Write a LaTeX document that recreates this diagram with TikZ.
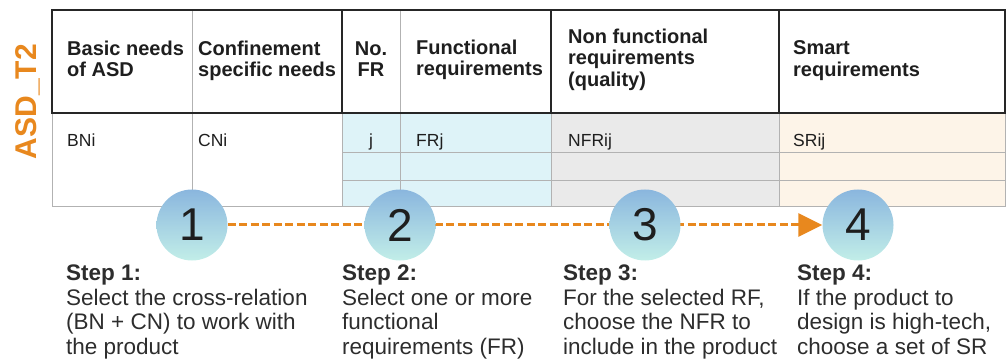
\documentclass[tikz,border=0pt]{standalone}
\usepackage{fontspec}
\setmainfont{Liberation Sans}
\usetikzlibrary{arrows.meta,backgrounds}
\definecolor{org}{RGB}{232,136,30}
\definecolor{cyanf}{RGB}{222,243,248}
\definecolor{grayf}{RGB}{234,234,234}
\definecolor{peachf}{RGB}{253,244,232}
\definecolor{gridc}{RGB}{178,178,178}
\definecolor{txt}{RGB}{30,30,30}
\definecolor{steptxt}{RGB}{45,45,45}
\definecolor{ctop}{RGB}{138,182,222}
\definecolor{cbot}{RGB}{194,238,232}
\begin{document}
\begin{tikzpicture}[x=1pt,y=-1pt,
 hdr/.style={anchor=base west, align=left, inner sep=0, font=\fontsize{20}{21.5}\selectfont\bfseries, text=txt},
 cell/.style={anchor=base west, inner sep=0, font=\fontsize{17.5}{20}\selectfont, text=txt},
 stepbox/.style={circle, minimum size=71pt, inner sep=0, top color=ctop, bottom color=cbot, font=\fontsize{46}{46}\selectfont, text=txt},
 steptext/.style={anchor=base west, align=left, inner sep=0, font=\fontsize{22.5}{24.5}\selectfont, text=steptxt},
 thinline/.style={draw=gridc, line width=1pt},
 thickline/.style={draw=black!85, line width=2.5pt},
 flow/.style={draw=org, line width=3pt, dash pattern=on 8pt off 3.5pt, -{Triangle[length=24pt,width=23pt]}}
]
\useasboundingbox (0,0) rectangle (1008,363);
% body fills
\fill[cyanf] (342,113) rectangle (551,207);
\fill[grayf] (551,113) rectangle (779,207);
\fill[peachf] (779,113) rectangle (1005,207);
% thin grid
\draw[thinline] (52,113) -- (52,207) -- (1005,207) -- (1005,113);
\draw[thinline] (192,10) -- (192,207);
\draw[thinline] (400,10) -- (400,207);
\draw[thinline] (342,113) -- (342,207);
\draw[thinline] (551,113) -- (551,207);
\draw[thinline] (779,113) -- (779,207);
\draw[thinline] (342,153) -- (1005,153);
\draw[thinline] (342,181) -- (1005,181);
% header frame
\draw[thickline] (52,10) rectangle (1005,113);
\draw[thickline] (342,10) -- (342,113);
\draw[thickline] (551,10) -- (551,113);
\draw[thickline] (779,10) -- (779,113);
% label
\node[rotate=90, anchor=base, inner sep=0, font=\fontsize{30}{30}\selectfont\bfseries, text=org] (lbl) at (36.5,101.5) {ASD\_T2};
% headers (anchor base = baseline of last line)
\node[hdr] (h1) at (67,77) {Basic needs\\of ASD};
\node[hdr] (h2) at (198,77) {Confinement\\specific needs};
\node[hdr, align=center, anchor=base] (h3) at (371,77) {No.\\FR};
\node[hdr] (h4) at (416,76) {Functional\\requirements};
\node[hdr] (h5) at (568,86.5) {Non functional\\requirements\\(quality)};
\node[hdr] (h6) at (793,76.5) {Smart\\requirements};
% body cells
\node[cell] (b1) at (67,147) {BNi};
\node[cell] (b2) at (198,147) {CNi};
\node[cell, anchor=base] (b3) at (371,147) {j};
\node[cell] (b4) at (416,147) {FRj};
\node[cell] (b5) at (568,147) {NFRij};
\node[cell] (b6) at (793,147) {SRij};
% circles
\node[stepbox] (c1) at (192,225) {1};
\node[stepbox] (c2) at (400,225) {2};
\node[stepbox] (c3) at (645,225) {3};
\node[stepbox] (c4) at (858,225) {4};
\begin{scope}[on background layer]
\draw[flow] (c1) -- (c4);
\end{scope}
% step texts (anchor base = baseline of last line)
\node[steptext] (s1) at (66,354) {\textbf{Step 1:}\\Select the cross-relation\\(BN + CN) to work with\\the product};
\node[steptext] (s2) at (342,354) {\textbf{Step 2:}\\Select one or more\\functional\\requirements (FR)};
\node[steptext] (s3) at (563,354) {\textbf{Step 3:}\\For the selected RF,\\choose the NFR to\\include in the product};
\node[steptext] (s4) at (797,354) {\textbf{Step 4:}\\If the product to\\design is high-tech,\\choose a set of SR};
\end{tikzpicture}
\end{document}
